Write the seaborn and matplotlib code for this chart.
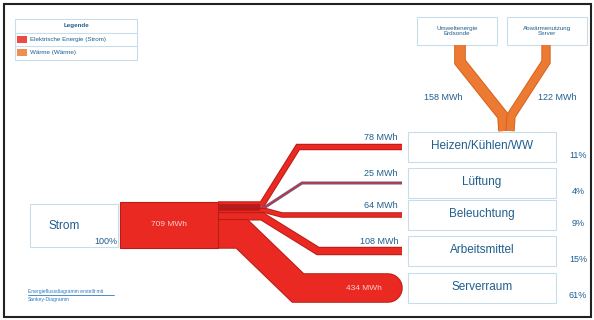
import matplotlib
matplotlib.use("Agg")
import matplotlib.pyplot as plt
from matplotlib.patches import Rectangle
import pandas as pd
import seaborn as sns

# --- data -----------------------------------------------------------------
source_label = "Strom"
targets = ["Heizen/Kühlen/WW", "Lüftung", "Beleuchtung", "Arbeitsmittel", "Serverraum"]
target_mwh = [78, 25, 64, 108, 434]
heat_sources = ["Umweltenergie\nErdsonde", "Abwärmenutzung\nServer"]
heat_mwh = [158, 122]
legend_title = "Legende"
legend_items = ["Elektrische Energie (Strom)", "Wärme (Wärme)"]

total_mwh = sum(target_mwh)
shares = [v / total_mwh * 100 for v in target_mwh]

# --- style ----------------------------------------------------------------
sns.set_theme(style="white")
plt.rcParams["font.family"] = ["Liberation Sans", "DejaVu Sans"]

RED = "#ea2a22"
RED_EDGE = "#b81c18"
ORANGE = "#ec7a32"
TEXT = "#1f5e8e"
BOX = "#c9dcec"

PX = 0.065          # band thickness in pixels per MWh
PT = 0.72           # points per pixel at 100 dpi

fig = plt.figure(figsize=(5.94, 3.2), dpi=100)
ax = fig.add_axes([0, 0, 1, 1])


def band(points, value, color, edge, cap="butt"):
    df = pd.DataFrame(points, columns=["x", "y"])
    w = value * PX
    sns.lineplot(data=df, x="x", y="y", sort=False, estimator=None, ax=ax,
                 color=edge, linewidth=(w + 1.4) * PT,
                 solid_capstyle=cap, solid_joinstyle="miter")
    sns.lineplot(data=df, x="x", y="y", sort=False, estimator=None, ax=ax,
                 color=color, linewidth=max(w - 0.6, 0.6) * PT,
                 solid_capstyle=cap, solid_joinstyle="miter")


def box(x0, y0, x1, y1, ec=BOX, fc="white", lw=0.8):
    ax.add_patch(Rectangle((x0, y0), x1 - x0, y1 - y0, fc=fc, ec=ec, lw=lw, zorder=1))


# --- target boxes ---------------------------------------------------------
row_y = [147, 183, 215, 251, 288]
for name, cy, sh in zip(targets, row_y, shares):
    box(408, cy - 15, 556, cy + 15)
    ax.text(482, cy - 1, name, ha="center", va="center", fontsize=8.5, color=TEXT, zorder=5)
    ax.text(578, cy + 8, f"{sh:.0f}%", ha="center", va="center", fontsize=6.5, color=TEXT, zorder=5)

# --- electricity bands ----------------------------------------------------
x_box = 218
stack_top = 225 - total_mwh * PX / 2
centres = []
acc = stack_top
for v in target_mwh:
    centres.append(acc + v * PX / 2)
    acc += v * PX

bend_start = [262, 264, 266, 262, 242]
bend_end = [298, 302, 282, 318, 298]
end_x = [402, 402, 402, 402, 388]
edges = [RED_EDGE, "#6a5a8a", RED_EDGE, RED_EDGE, RED_EDGE]
for i, v in enumerate(target_mwh):
    pts = [(x_box, centres[i]), (bend_start[i], centres[i]),
           (bend_end[i], row_y[i]), (end_x[i], row_y[i])]
    band(pts, v, RED, edges[i], cap="round" if i == len(target_mwh) - 1 else "butt")

# darker splitter section where the narrow bands leave the node
ax.add_patch(Rectangle((x_box, stack_top + 2), 42, 7, fc="#b31614", ec="none", zorder=3, alpha=0.8))

# value labels
for i, v in enumerate(target_mwh[:-1]):
    ax.text(398, row_y[i] - 9, f"{v} MWh", ha="right", va="center", fontsize=6.5, color=TEXT, zorder=5)
ax.text(364, row_y[-1], f"{target_mwh[-1]} MWh", ha="center", va="center",
        fontsize=6, color="#fbd0cc", zorder=5)

# --- source boxes ---------------------------------------------------------
box(30, 204, 118, 247)
ax.text(64, 226, source_label, ha="center", va="center", fontsize=8.5, color=TEXT, zorder=5)
ax.text(106, 241, "100%", ha="center", va="center", fontsize=6.5, color=TEXT, zorder=5)
ax.add_patch(Rectangle((120, stack_top), x_box - 120, total_mwh * PX, fc=RED, ec=RED_EDGE,
                       lw=0.8, zorder=4))
ax.text(169, 225, f"{total_mwh} MWh", ha="center", va="center", fontsize=6,
        color="#fbd0cc", zorder=5)

# --- heat inflows ---------------------------------------------------------
box(417, 17, 497, 45)
box(507, 17, 587, 45)
ax.text(457, 31, heat_sources[0], ha="center", va="center", fontsize=4.5,
        color=TEXT, linespacing=1.1, zorder=5)
ax.text(547, 31, heat_sources[1], ha="center", va="center", fontsize=4.5,
        color=TEXT, linespacing=1.1, zorder=5)
band([(460, 45), (460, 62), (503, 116), (504, 131)], heat_mwh[0], ORANGE, "#d8621e")
band([(546, 45), (546, 62), (511, 116), (510, 131)], heat_mwh[1], ORANGE, "#d8621e")
ax.text(443, 97, f"{heat_mwh[0]} MWh", ha="center", va="center", fontsize=6.5, color=TEXT, zorder=5)
ax.text(557, 97, f"{heat_mwh[1]} MWh", ha="center", va="center", fontsize=6.5, color=TEXT, zorder=5)

# --- legend ---------------------------------------------------------------
box(15, 19, 137, 60)
ax.plot([15, 137], [33, 33], color=BOX, lw=0.8, zorder=2)
ax.plot([15, 137], [46, 46], color=BOX, lw=0.8, zorder=2)
ax.text(76, 26, legend_title, ha="center", va="center", fontsize=4.5,
        fontweight="bold", color=TEXT, zorder=5)
for y, c, lab in [(39.5, RED, legend_items[0]), (52.5, ORANGE, legend_items[1])]:
    ax.add_patch(Rectangle((17, y - 3.5), 10, 7, fc=c, ec="none", zorder=4, alpha=0.85))
    ax.text(30, y, lab, ha="left", va="center", fontsize=4.5, color=TEXT, zorder=5)

# --- footer note ----------------------------------------------------------
ax.text(28, 292, "Energieflussdiagramm erstellt mit", ha="left", va="center",
        fontsize=3.6, color="#2b7bc0", zorder=5)
ax.plot([28, 114], [295, 295], color="#2b7bc0", lw=0.6)
ax.text(28, 300, "Sankey-Diagramm", ha="left", va="center", fontsize=3.6,
        color="#2b7bc0", zorder=5)

# --- frame ----------------------------------------------------------------
ax.add_patch(Rectangle((3.5, 3.5), 587, 313, fc="none", ec="#222222", lw=1.5, zorder=6))

ax.set_xlim(0, 594)
ax.set_ylim(320, 0)
ax.set_xlabel("")
ax.set_ylabel("")
ax.axis("off")

fig.savefig("out.png", dpi=100)
